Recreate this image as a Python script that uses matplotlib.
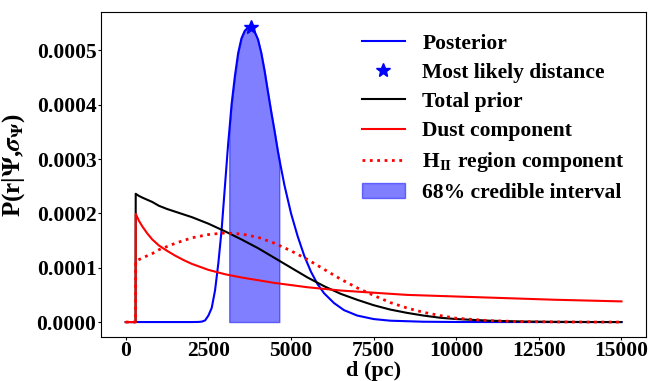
import numpy as np
import matplotlib
matplotlib.use('Agg')
import matplotlib.pyplot as plt

plt.rcParams['font.family'] = ['Liberation Serif', 'DejaVu Serif']
plt.rcParams['font.weight'] = 'bold'
plt.rcParams['axes.labelweight'] = 'bold'
plt.rcParams['mathtext.fontset'] = 'stix'

# prior components (units of 1e-4 per pc)
d_prior = [0, 295, 300, 400, 500, 650, 800, 1000, 1250, 1500, 1750, 2000, 2500,
           3000, 3500, 4000, 4500, 5000, 5500, 6000, 6500, 7000, 7500, 8000,
           8500, 9000, 9500, 10000, 11000, 12000, 13000, 14000, 15000]
total_prior = [0, 0, 2.36, 2.32, 2.29, 2.25, 2.21, 2.14, 2.08, 2.03, 1.98, 1.93, 1.81,
               1.67, 1.52, 1.36, 1.18, 1.00, 0.82, 0.66, 0.52, 0.41, 0.31, 0.23,
               0.17, 0.12, 0.08, 0.055, 0.025, 0.01, 0.004, 0.001, 0.0]
dust = [0, 0, 1.99, 1.86, 1.76, 1.63, 1.52, 1.41, 1.31, 1.22, 1.14, 1.07, 0.96,
        0.88, 0.82, 0.77, 0.72, 0.68, 0.64, 0.61, 0.58, 0.56, 0.54, 0.52,
        0.50, 0.49, 0.48, 0.47, 0.45, 0.43, 0.41, 0.395, 0.38]
hii = [0, 0, 1.12, 1.15, 1.18, 1.22, 1.26, 1.33, 1.39, 1.45, 1.50, 1.55, 1.61,
       1.64, 1.62, 1.56, 1.45, 1.31, 1.15, 0.97, 0.79, 0.63, 0.49, 0.36,
       0.26, 0.18, 0.12, 0.07, 0.025, 0.008, 0.002, 0.0, 0.0]

# posterior
d_post = [0, 1000, 2000, 2200, 2300, 2400, 2500, 2600, 2700, 2800, 2900, 3000,
          3100, 3130, 3200, 3300, 3400, 3500, 3600, 3700, 3780, 3900, 4000,
          4100, 4200, 4300, 4400, 4500, 4600, 4645, 4800, 5000, 5200, 5400,
          5600, 5800, 6000, 6300, 6600, 7000, 7500, 8000, 9000, 10000, 11000, 15000]
posterior = [0, 0, 0, 0.002, 0.008, 0.03, 0.12, 0.26, 0.58, 1.08, 1.70, 2.50,
             3.30, 3.50, 4.00, 4.52, 4.95, 5.22, 5.36, 5.42, 5.43, 5.34, 5.20,
             4.95, 4.62, 4.24, 3.87, 3.52, 3.15, 3.00, 2.52, 2.00, 1.58, 1.22,
             0.93, 0.70, 0.53, 0.35, 0.22, 0.12, 0.055, 0.025, 0.006, 0.001, 0.0, 0.0]

d_best = 3780
p_best = 5.43
ci_low, ci_high = 3130, 4645

scale = 1e-4
d_post = np.array(d_post)
posterior = np.array(posterior) * scale
d_prior = np.array(d_prior)

fig = plt.figure(figsize=(6.69, 3.81), dpi=100)
ax = fig.add_axes([0.151, 0.116, 0.815, 0.852])

ax.plot(d_post, posterior, 'b', lw=1.5, label='Posterior')
ax.plot(d_best, p_best * scale, 'b*', ms=10, ls='none', label='Most likely distance')
ax.plot(d_prior, np.array(total_prior) * scale, 'k', lw=1.5, label='Total prior')
ax.plot(d_prior, np.array(dust) * scale, 'r', lw=1.5, label='Dust component')
ax.plot(d_prior, np.array(hii) * scale, 'r:', lw=2, label=r'H$_{\rm II}$ region component')

mask = (d_post >= ci_low) & (d_post <= ci_high)
ax.fill_between(d_post[mask], posterior[mask], color='b', alpha=0.5,
                label='68% credible interval')

ax.set_xticks([0, 2500, 5000, 7500, 10000, 12500, 15000])
ax.tick_params(labelsize=15.5, length=2.5, pad=0.8)
ax.set_xlabel('d (pc)', fontsize=16, labelpad=0)
ax.set_ylabel(r'P(r|$\Psi$,$\sigma_\Psi$)', fontsize=18, labelpad=2)
ax.yaxis.set_label_coords(-0.135, 0.53)

ax.legend(loc='upper right', frameon=False, fontsize=15.5, labelspacing=0.42,
          borderaxespad=0.6)

fig.savefig('out.png', dpi=100)
